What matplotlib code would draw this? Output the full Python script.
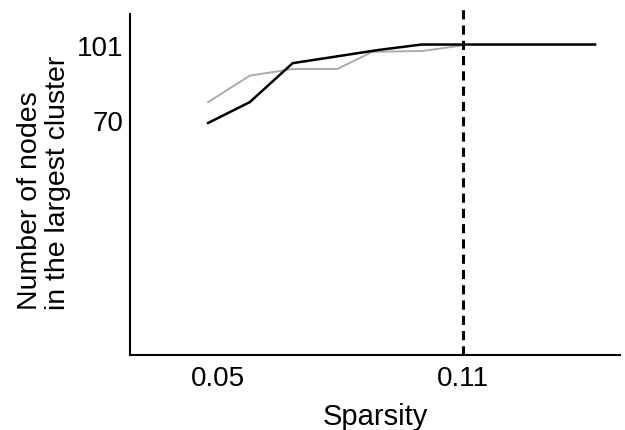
import matplotlib
matplotlib.use("Agg")
import matplotlib.pyplot as plt

plt.rcParams['font.family'] = ['Liberation Sans', 'DejaVu Sans']

# sparsity values and cluster sizes
x_black = [0.0476, 0.0578, 0.0683, 0.0789, 0.0894, 0.0999, 0.1100, 0.1213, 0.1318, 0.1424]
y_black = [69, 77.5, 93.4, 96.1, 98.8, 101, 101, 101, 101, 101]

x_gray = [0.0476, 0.0578, 0.0683, 0.0792, 0.0878, 0.1003, 0.1093]
y_gray = [77.5, 88.3, 91, 91, 98, 98.4, 100.5]

threshold = 0.11
x_ticks = [0.05, 0.11]
x_ticklabels = ['0.05', '0.11']
y_ticks = [70, 101]
y_ticklabels = ['70', '101']

fig = plt.figure(figsize=(6.25, 4.31), dpi=100)
ax = fig.add_axes([130 / 625, 1 - 356 / 431, 490 / 625, 346 / 431])

ax.plot(x_gray, y_gray, color='#ababab', lw=1.4)
ax.plot(x_black, y_black, color='black', lw=1.8)
ax.axvline(threshold, color='black', lw=2.2, dashes=(3, 2))

ax.set_xlim(0.02845, 0.1485)
ax.set_ylim(-25.7, 115.5)

ax.set_xticks(x_ticks)
ax.set_xticklabels(x_ticklabels)
ax.set_yticks(y_ticks)
ax.set_yticklabels(y_ticklabels)
ax.tick_params(axis='both', length=0, labelsize=20)
ax.tick_params(axis='x', pad=7)
ax.tick_params(axis='y', pad=5)

ax.spines['top'].set_visible(False)
ax.spines['right'].set_visible(False)
ax.spines['left'].set_linewidth(1.5)
ax.spines['bottom'].set_linewidth(1.5)
ax.spines['left'].set_bounds(-25.7, 113.5)

ax.set_xlabel('Sparsity', fontsize=21, labelpad=8)
ax.set_ylabel('Number of nodes\nin the largest cluster', fontsize=20.5,
              multialignment='left', labelpad=4, linespacing=1.1)

fig.savefig('out.png', dpi=100)
